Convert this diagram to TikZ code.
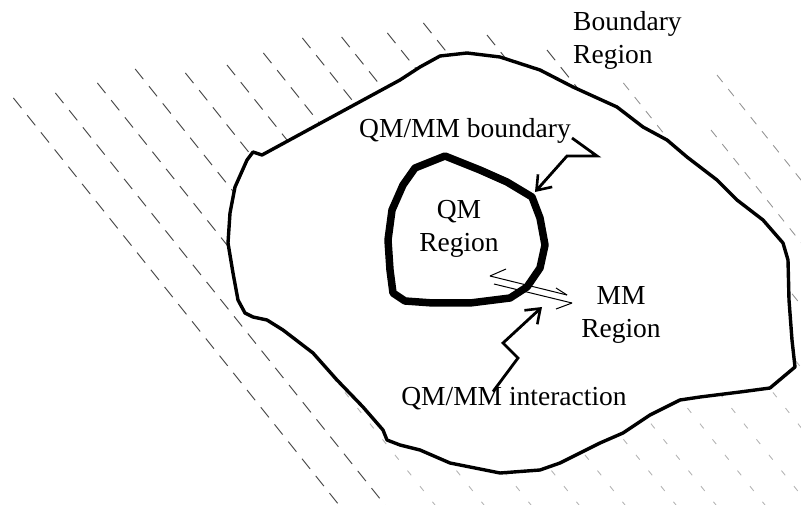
\documentclass[tikz,border=0pt]{standalone}
\usepackage{fontspec}
\setmainfont{Liberation Serif}
\usetikzlibrary{arrows.meta}
\tikzset{
  lbl/.style={font=\fontsize{27.5}{33}\selectfont, inner sep=0pt, align=center},
  hatchline/.style={black!70, line width=1pt, dash pattern=on 13pt off 9pt},
  hatchfaint/.style={black!28, line width=0.9pt, dash pattern=on 6pt off 14pt},
  outerline/.style={line width=3.4pt, line join=round},
  innerline/.style={line width=7.5pt, line join=round},
  zig/.style={line width=2.8pt, line join=miter, -{Straight Barb[length=13pt,width=19pt,line width=2.6pt]}},
  eqline/.style={line width=1pt},
}
\def\outerpath{(247,160) -- (253,152) -- (262,155) -- (330,118) -- (400,80) -- (420,67) -- (440,56) -- (467,53) -- (500,57) -- (540,70) -- (573,87) -- (617,107) -- (643,127) -- (667,140) -- (687,157) -- (717,180) -- (737,200) -- (763,220) -- (783,243) -- (788,260) -- (789,300) -- (792,340) -- (795,367) -- (770,388) -- (740,392) -- (700,397) -- (680,400) -- (650,415) -- (623,433) -- (600,443) -- (560,463) -- (540,470) -- (500,473) -- (450,463) -- (420,450) -- (400,445) -- (387,440) -- (383,430) -- (363,407) -- (337,380) -- (313,353) -- (283,330) -- (267,320) -- (253,317) -- (245,313) -- (238,300) -- (233,273) -- (228,243) -- (230,213) -- (235,187) -- cycle}
\begin{document}
\begin{tikzpicture}[x=1pt,y=-1pt]
\useasboundingbox[fill=white] (0,0) rectangle (801,505);
% hatching of the boundary region (outside the MM region)
\begin{scope}[even odd rule]
  \clip (0,0) rectangle (801,505) \outerpath;
  % dark lines on the left
  \foreach \xo/\ys in {-65/98, -19/93}
    \draw[hatchline] ({\xo+0.8*\ys},\ys) -- ({\xo+0.8*520},520);
  % upper parts dark, lower parts faint
  \foreach \xo/\ys in {31/83, 80/69, 127/73, 175/65, 221/53, 272/38, 312/37, 361/33, 405/23, 459/35, 507/50}
    {\draw[hatchline] ({\xo+0.8*\ys},\ys) -- ({\xo+0.8*330},330);
     \draw[hatchfaint] ({\xo+0.8*330},330) -- ({\xo+0.8*520},520);}
  % faint lines on the right
  \foreach \xo/\ys in {557/83, 607/130, 657/75}
    \draw[hatchfaint, black!40, dash pattern=on 9pt off 9pt] ({\xo+0.8*\ys},\ys) -- ({\xo+0.8*520},520);
\end{scope}
% MM region outline
\draw[outerline] \outerpath;
% QM region outline
\draw[innerline] (445,156) -- (480,170) -- (507,182) -- (532,197) -- (540,218) -- (545,245) -- (540,268) -- (527,287) -- (510,298) -- (470,303) -- (433,303) -- (405,301) -- (393,293) -- (390,270) -- (388,240) -- (392,210) -- (403,185) -- (415,168) -- cycle;
% labels
\node[lbl, align=left, anchor=north west] (bndreg) at (573,11) {Boundary\\Region};
\node[lbl, anchor=base] (qmmmb) at (465,138) {QM/MM boundary};
\node[lbl, anchor=north] (qmreg) at (459,200) {QM\\Region};
\node[lbl, anchor=north] (mmreg) at (621,286) {MM\\Region};
\node[lbl, anchor=base] (qmmmi) at (514,405) {QM/MM interaction};
% arrow targets on the QM boundary
\coordinate (qmtop) at (535,192);
\coordinate (qmbot) at (542,307);
\coordinate (zb1) at (597,156);
\coordinate (zb2) at (567,156);
\coordinate (zi1) at (518,358);
\coordinate (zi2) at (503,343);
\draw[zig] ([xshift=1pt]qmmmb.base east) -- (zb1) -- (zb2) -- (qmtop);
\draw[zig] ([xshift=-21pt,yshift=-5pt]qmmmi.north) -- (zi1) -- (zi2) -- (qmbot);
% interaction double arrow
\coordinate (ua) at (490,276);
\coordinate (ub) at (567,295);
\coordinate (la) at (494,284);
\coordinate (lb) at (572,303);
\draw[eqline] (ua) -- (ub);
\draw[eqline] (ua) -- ++(16,-7);
\draw[eqline] (ub) -- ++(-11,-7);
\draw[eqline] (la) -- (lb);
\draw[eqline] (lb) -- ++(-16,6);
\end{tikzpicture}
\end{document}
